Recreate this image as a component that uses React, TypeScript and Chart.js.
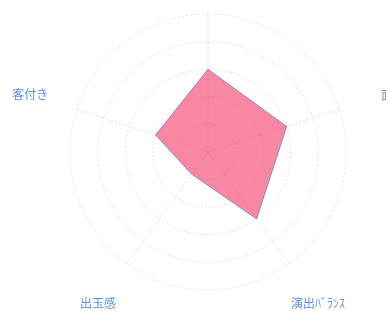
import React, { useEffect, useRef } from "react";
import { Chart, registerables } from "chart.js";

Chart.register(...registerables);

const axisLabels = ["ゲーム性", "面白さ", "演出ﾊﾞﾗﾝｽ", "出玉感", "客付き"];
const scores = [3, 3, 3, 1, 2];
const scaleMin = 0;
const scaleMax = 5;
const tickStep = 1;

const outerLabelPlugin = {
  id: "outerLabels",
  afterDraw(chart: any, _args: any, opts: any) {
    const scale = chart.scales.r;
    const ctx = chart.ctx;
    ctx.save();
    ctx.font = opts.font;
    ctx.fillStyle = opts.color;
    ctx.textBaseline = "middle";
    axisLabels.forEach((text, i) => {
      const p = scale.getPointPosition(i, scale.drawingArea * opts.distance[i]);
      ctx.textAlign = opts.align[i];
      ctx.fillText(text, p.x, p.y);
    });
    ctx.restore();
  },
};

export default function App() {
  const ref = useRef<HTMLCanvasElement | null>(null);

  useEffect(() => {
    if (!ref.current) return;
    const chart = new Chart(ref.current, {
      type: "radar",
      data: {
        labels: axisLabels,
        datasets: [
          {
            data: scores,
            backgroundColor: "rgba(245, 75, 112, 0.66)",
            borderColor: "rgba(125, 135, 205, 0.85)",
            borderWidth: 1,
            pointRadius: 0,
            pointHoverRadius: 0,
            fill: true,
          },
        ],
      },
      plugins: [outerLabelPlugin],
      options: {
        responsive: false,
        animation: false,
        layout: { padding: { left: 70, right: 40, top: 14, bottom: 21 } },
        plugins: {
          legend: { display: false },
          tooltip: { enabled: false },
          outerLabels: {
            font: '12px "Noto Sans CJK JP"',
            color: "#5b8fdc",
            distance: [1.355, 1.32, 1.355, 1.355, 1.355],
            align: ["center", "left", "center", "center", "center"],
          },
        } as any,
        scales: {
          r: {
            min: scaleMin,
            max: scaleMax,
            ticks: { display: false, stepSize: tickStep },
            pointLabels: { display: false },
            grid: { circular: true, color: "#e2e2e2", lineWidth: 1 },
            border: { dash: [2, 2] } as any,
            angleLines: { color: "#e2e2e2", lineWidth: 1, borderDash: [2, 2] },
          },
        },
      },
    });
    return () => chart.destroy();
  }, []);

  return (
    <div style={{ position: "fixed", left: 0, top: 0, width: 386, height: 311, overflow: "hidden", background: "#fff" }}>
      <canvas ref={ref} width={386} height={311} style={{ display: "block" }} />
    </div>
  );
}
